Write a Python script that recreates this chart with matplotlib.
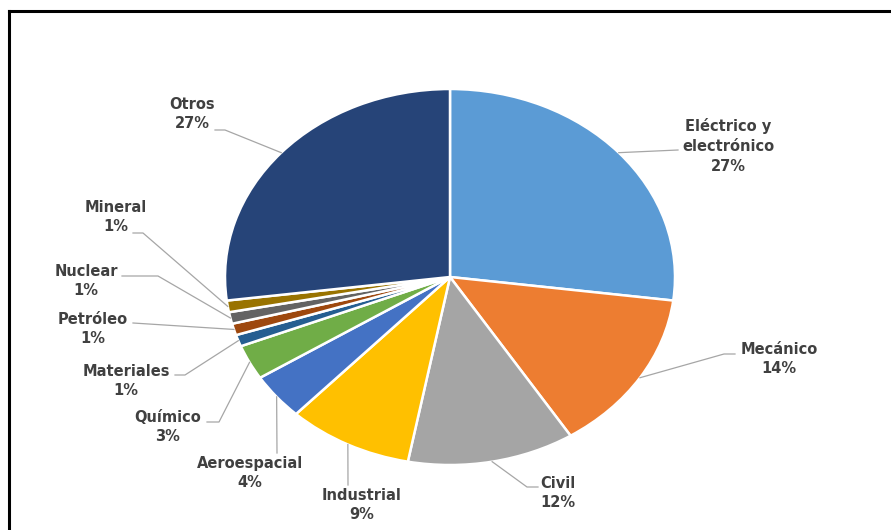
import matplotlib
matplotlib.use("Agg")
import matplotlib.pyplot as plt
from matplotlib.lines import Line2D
import numpy as np

# participación por especialidad
categorias = ["Eléctrico y\nelectrónico", "Mecánico", "Civil", "Industrial",
              "Aeroespacial", "Químico", "Materiales", "Petróleo",
              "Nuclear", "Mineral", "Otros"]
porcentajes = [27, 14, 12, 9, 4, 3, 1, 1, 1, 1, 27]
colores = ["#5B9BD5", "#ED7D31", "#A5A5A5", "#FFC000", "#4472C4", "#70AD47",
           "#255E91", "#9E480E", "#636363", "#997300", "#264478"]

# posiciones de las etiquetas en pixeles (centro del texto, codo, final de la guía)
etiq_pos = [(728, 146), (779, 359), (558, 493), (362, 505), (250, 473),
            (168, 427), (126, 381), (93, 329), (86, 281), (116, 217), (192, 114)]
codos = [(678, 150), (724, 354), (527, 487), (348, 485), (277, 453),
         (219, 422), (185, 375), (133, 323), (158, 276), (143, 233), (225, 130)]
finales = [(678, 150), (735, 354), (538, 487), (348, 485), (277, 453),
           (207, 422), (175, 375), (133, 323), (122, 276), (133, 233), (215, 130)]

W, H = 891, 530
cx, cy = 450, 277      # centro del pastel
rx, ry = 225, 188      # radios (el pastel sale achatado)

fig = plt.figure(figsize=(W / 100, H / 100), dpi=100)
ax = fig.add_axes([0, 0, 1, 1])

ax.pie(porcentajes, colors=colores, startangle=90, counterclock=False,
       wedgeprops=dict(edgecolor="white", linewidth=1.8))
ax.set_aspect("auto")
ax.set_xlim(-cx / rx, (W - cx) / rx)
ax.set_ylim(-(H - cy) / ry, cy / ry)
ax.axis("off")


def px(x, y):
    # pixeles -> datos
    return (x - cx) / rx, (cy - y) / ry


total = sum(porcentajes)
inicio = 90.0
for i, (cat, val) in enumerate(zip(categorias, porcentajes)):
    ang = inicio - 360.0 * val / total
    mid = np.deg2rad((inicio + ang) / 2)
    inicio = ang
    p0 = (np.cos(mid), np.sin(mid))
    p1 = px(*codos[i])
    p2 = px(*finales[i])
    ax.plot([p0[0], p1[0], p2[0]], [p0[1], p1[1], p2[1]],
            color="#A6A6A6", lw=0.9, zorder=1)
    tx, ty = px(*etiq_pos[i])
    ax.text(tx, ty, f"{cat}\n{val}%", ha="center", va="center",
            fontsize=10.5, fontweight="bold", color="#404040",
            family="DejaVu Sans", linespacing=1.4)

# marco
fig.add_artist(Line2D([9 / W, 9 / W], [0, 1 - 11 / H], color="black", lw=2.2,
                      transform=fig.transFigure))
fig.add_artist(Line2D([9 / W, 1], [1 - 11 / H, 1 - 11 / H], color="black", lw=2.2,
                      transform=fig.transFigure))

fig.savefig("out.png", dpi=100)
